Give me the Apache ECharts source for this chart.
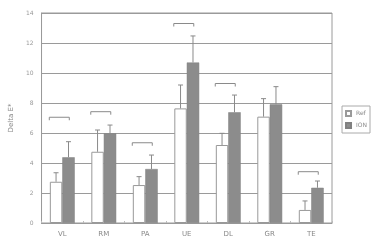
<!DOCTYPE html>
<html><head><meta charset="utf-8">
<script src="https://cdn.jsdelivr.net/npm/echarts@6/dist/echarts.min.js"></script>
<style>html,body{margin:0;padding:0;background:#fff}#c{width:376px;height:248px}</style>
</head><body><div id="c"></div>
<script>
var categories = ['VL','RM','PA','UE','DL','GR','TE'];
var refValues = [2.75, 4.75, 2.53, 7.64, 5.2, 7.09, 0.87];
var refUpper  = [3.35, 6.2, 3.09, 9.2, 5.98, 8.29, 1.47];
var ionValues = [4.38, 5.98, 3.6, 10.7, 7.38, 7.91, 2.35];
var ionUpper  = [5.42, 6.53, 4.53, 12.47, 8.53, 9.09, 2.8];
var bracketLevels = [7.05, 7.42, 5.35, 13.3, 9.3, null, 3.42];
var yTicks = [0, 2, 4, 6, 8, 10, 12, 14];

var chart = echarts.init(document.getElementById('c'));
var lineCol = '#9a9a9a';
var BW = 0.3;
function errItem(upper, means, side){
  return function(params, api){
    var i = api.value(0);
    var bw = api.size([1,0])[0]*BW;
    var p0 = api.coord([i, means[i]]);
    var p1 = api.coord([i, upper[i]]);
    var x = p0[0] + side*bw/2;
    return {type:'group', children:[
      {type:'line', shape:{x1:x,y1:p0[1],x2:x,y2:p1[1]}, style:{stroke:'#8a8a8a',lineWidth:1}},
      {type:'line', shape:{x1:x-2.5,y1:p1[1],x2:x+2.5,y2:p1[1]}, style:{stroke:'#8a8a8a',lineWidth:1}}
    ]};
  };
}
var option = {
  animation:false,
  grid:{left:37,right:44,top:13,bottom:25,show:true,borderColor:lineCol,borderWidth:1,backgroundColor:'transparent'},
  legend:{
    orient:'vertical', right:6, top:106, itemWidth:5, itemHeight:5, itemGap:5,
    padding:[4,3,4,3], borderColor:'#aaa', borderWidth:1,
    textStyle:{fontSize:6,color:'#888',fontFamily:'DejaVu Sans'},
    data:[{name:'Ref',icon:'rect'},{name:'ION',icon:'rect'}]
  },
  xAxis:{type:'category',data:categories,
    axisLine:{lineStyle:{color:lineCol}},
    axisTick:{show:true,inside:true,length:2,lineStyle:{color:'#bbb'}},
    axisLabel:{color:'#888',fontSize:7,margin:8,fontFamily:'DejaVu Sans'}},
  yAxis:{type:'value',min:0,max:14,interval:2,
    name:'Delta E*',nameLocation:'middle',nameGap:24,nameRotate:90,
    nameTextStyle:{color:'#888',fontSize:7,fontFamily:'DejaVu Sans'},
    axisLine:{show:true,lineStyle:{color:lineCol}},
    axisTick:{show:false},
    axisLabel:{color:'#999',fontSize:6,margin:8,fontFamily:'DejaVu Sans',
      formatter:function(v){return yTicks.indexOf(v)>=0?String(v):'';}},
    splitLine:{lineStyle:{color:lineCol,width:1}}},
  series:[
    {name:'Ref',type:'bar',data:refValues,barWidth:'30%',barGap:'0%',
      itemStyle:{color:'#ffffff',borderColor:'#999',borderWidth:1}},
    {name:'ION',type:'bar',data:ionValues,barWidth:'30%',barGap:'0%',
      itemStyle:{color:'#8c8c8c',borderColor:'#808080',borderWidth:0.5}},
    {type:'custom',renderItem:errItem(refUpper,refValues,-1),data:categories.map(function(c,i){return [i];}),z:5,silent:true},
    {type:'custom',renderItem:errItem(ionUpper,ionValues,1),data:categories.map(function(c,i){return [i];}),z:5,silent:true},
    {type:'custom',z:5,silent:true,
      data:bracketLevels.map(function(v,i){return [i, v==null?0:v, v==null?0:1];}),
      renderItem:function(params, api){
        if(!api.value(2)) return null;
        var p = api.coord([api.value(0), api.value(1)]);
        var x1 = p[0]-13, x2 = p[0]+7, y = p[1];
        return {type:'polyline', shape:{points:[[x1,y+3],[x1,y],[x2,y],[x2,y+3]]},
          style:{stroke:'#8a8a8a',lineWidth:1,fill:null}};
      }}
  ]
};
chart.setOption(option);
</script></body></html>
